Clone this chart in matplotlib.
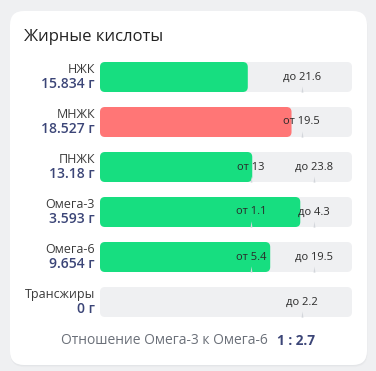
import matplotlib
matplotlib.use("Agg")
import matplotlib.pyplot as plt
from matplotlib.patches import FancyBboxPatch
from matplotlib.path import Path

plt.rcParams['font.family'] = ['Open Sans', 'DejaVu Sans']

# ---- data ----
title = "Жирные кислоты"
names = ["НЖК", "МНЖК", "ПНЖК", "Омега-3", "Омега-6", "Трансжиры"]
values = [15.834, 18.527, 13.18, 3.593, 9.654, 0]
lows = [None, 19.5, 13, 1.1, 5.4, None]
highs = [21.6, None, 23.8, 4.3, 19.5, 2.2]
status = ["ok", "low", "ok", "ok", "ok", "ok"]
ratio_label = "Отношение Омега-3 к Омега-6"
ratio_value = "1 : 2.7"
unit = "г"

# ---- styles ----
W, H = 376, 371
BG = "#eff0f2"
TRACK = "#eff0f2"
GREEN = "#17de80"
RED = "#ff7676"
NAME_C = "#3a3a3a"
VAL_C = "#3b4577"
MARK_C = "#d3d6db"

def fmt(v):
    return ("%g" % v)

def scale_pos(v, lo, hi):
    """Map a value onto the bar scale (0..1) defined by its norm bounds."""
    if lo is not None and hi is not None:
        a, b = 0.6, 0.85
        if v <= lo:
            return a * v / lo
        if v <= hi:
            return a + (v - lo) / (hi - lo) * (b - a)
        return min(1.0, b + (v - hi) / hi * (1 - b))
    ref = hi if hi is not None else lo
    return min(1.0, 0.8 * v / ref)

fig = plt.figure(figsize=(W / 100, H / 100), dpi=100)
fig.patch.set_facecolor(BG)

# background / card axes in pixel coordinates
bg = fig.add_axes([0, 0, 1, 1])
bg.set_xlim(0, W)
bg.set_ylim(H, 0)
bg.axis("off")
for k, a in enumerate([0.05, 0.04, 0.03]):
    bg.add_patch(FancyBboxPatch((10 + 0.3 * k, 12 + k * 0.6), 357, 354,
                                boxstyle="round,pad=0,rounding_size=14",
                                fc="#9aa0a8", ec="none", alpha=a, zorder=0))
bg.add_patch(FancyBboxPatch((10, 11), 357, 354, boxstyle="round,pad=0,rounding_size=14",
                            fc="white", ec="none", zorder=1))
bg.text(24, 37, title, fontsize=12, fontweight="medium", color="#222222",
        va="center", ha="left", zorder=2)

# bars axes
n = len(names)
left_px, right_px = 100, 352
top_px, pitch = 54.5, 45
ax = fig.add_axes([left_px / W, 1 - (top_px + pitch * n) / H,
                   (right_px - left_px) / W, pitch * n / H])
ax.set_xlim(0, 1)
ax.set_ylim(n - 0.5, -0.5)
ax.axis("off")
ax.patch.set_alpha(0)

bh = 30 / pitch
px_x = 1 / (right_px - left_px)
px_y = 1 / pitch
aspect = px_y / px_x
r = 5 * px_x

tri = Path([(-0.3, -1), (0.3, -1), (0, 1), (-0.3, -1)],
           [Path.MOVETO, Path.LINETO, Path.LINETO, Path.CLOSEPOLY])

for i, (nm, v, lo, hi, st) in enumerate(zip(names, values, lows, highs, status)):
    ax.add_patch(FancyBboxPatch((0, i - bh / 2), 1, bh,
                                boxstyle=f"round,pad=0,rounding_size={r}",
                                mutation_aspect=aspect, fc=TRACK, ec="none", zorder=1))
    w = scale_pos(v, lo, hi)
    if w > 0:
        ax.add_patch(FancyBboxPatch((0, i - bh / 2), w, bh,
                                    boxstyle=f"round,pad=0,rounding_size={r}",
                                    mutation_aspect=aspect,
                                    fc=(RED if st == "low" else GREEN), ec="none", zorder=2))
    bounds = []
    if lo is not None:
        bounds.append(("от " + fmt(lo), lo))
    if hi is not None:
        bounds.append(("до " + fmt(hi), hi))
    for lab, b in bounds:
        x = scale_pos(b, lo, hi)
        ax.plot([x], [i + bh / 2 - 3 * px_y], marker=tri, markersize=4.5,
                color=MARK_C, mec="none", zorder=3, clip_on=False)
        ax.text(x, i, lab, fontsize=8, color="#2a2a2a", ha="center", va="center", zorder=4)
    ax.text(-5 * px_x, i - 7.5 * px_y, nm, fontsize=9, color=NAME_C, ha="right", va="center",
            clip_on=False)
    ax.text(-5 * px_x, i + 7 * px_y, f"{fmt(v)} {unit}", fontsize=10, fontweight="semibold",
            color=VAL_C, ha="right", va="center", clip_on=False)

# ratio line
bg.text(268, 341, ratio_label, fontsize=10, color="#6b7079", ha="right", va="center", zorder=2)
bg.text(277, 341, ratio_value, fontsize=9.8, fontweight="bold", color=VAL_C,
        ha="left", va="center", zorder=2)

fig.savefig("out.png", dpi=100, facecolor=BG)
